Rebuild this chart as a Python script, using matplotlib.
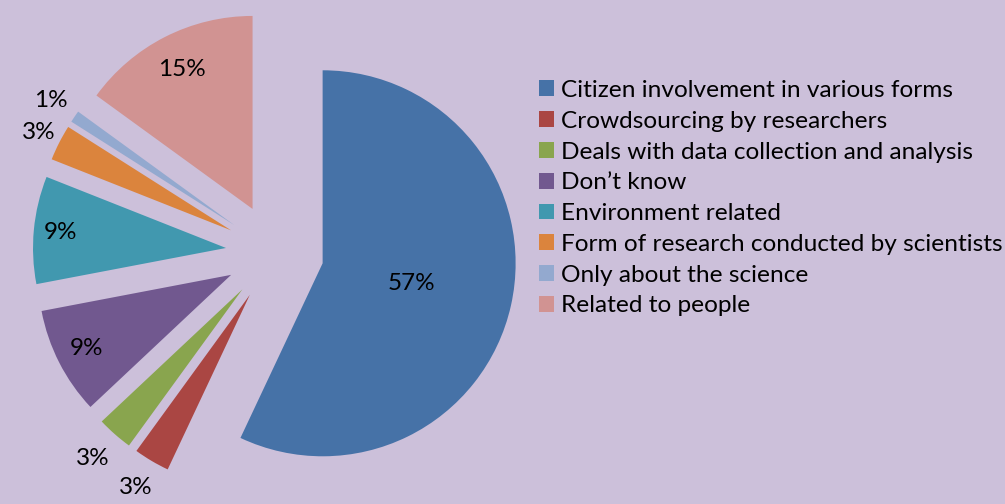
import numpy as np
import matplotlib
matplotlib.use("Agg")
from matplotlib import pyplot as plt

# data
categories = ["Citizen involvement in various forms",
              "Crowdsourcing by researchers",
              "Deals with data collection and analysis",
              "Don\u2019t know",
              "Environment related",
              "Form of research conducted by scientists",
              "Only about the science",
              "Related to people"]
shares = [57, 3, 3, 9, 9, 3, 1, 15]
pct_labels = ["57%", "3%", "3%", "9%", "9%", "3%", "1%", "15%"]

colors = ["#4672A7", "#AA4643", "#89A54E", "#71588F",
          "#4198AF", "#DB843D", "#93A9CF", "#D19392"]
bg = "#CCC0DA"

# label distance from each wedge tip, in radii (inside / outside like excel did)
label_dist = [0.47, 1.16, 1.17, 0.84, 0.86, 1.12, 1.15, 0.81]

plt.rcParams["font.family"] = ["Lato", "DejaVu Sans"]

W, H = 1005, 504
fig = plt.figure(figsize=(W / 100, H / 100), dpi=100)
fig.patch.set_facecolor(bg)
ax = fig.add_axes([0, 0, 1, 1])

r = 193        # pixels
pull = 49      # explode distance, pixels
cx, cy = 274.8, H - 252.6

wedges, _ = ax.pie(shares, colors=colors, startangle=90, counterclock=False,
                   radius=r, center=(cx, cy), explode=[pull] * len(shares),
                   wedgeprops=dict(linewidth=0))

for w, txt, d in zip(wedges, pct_labels, label_dist):
    th = np.deg2rad((w.theta1 + w.theta2) / 2)
    x0, y0 = w.center
    ax.text(x0 + d * r * np.cos(th), y0 + d * r * np.sin(th), txt,
            ha="center", va="center", fontsize=17.5, color="black")

ax.set_xlim(0, W)
ax.set_ylim(0, H)
ax.set_aspect("equal")
ax.axis("off")

fig.legend(wedges, categories, loc="upper left",
           bbox_to_anchor=(539 / W, 1 - 80 / H),
           frameon=False, fontsize=17.6, borderpad=0, borderaxespad=0,
           handlelength=0.62, handleheight=0.62, handletextpad=0.29,
           labelspacing=0.40)

fig.savefig("out.png", dpi=100, facecolor=bg)
